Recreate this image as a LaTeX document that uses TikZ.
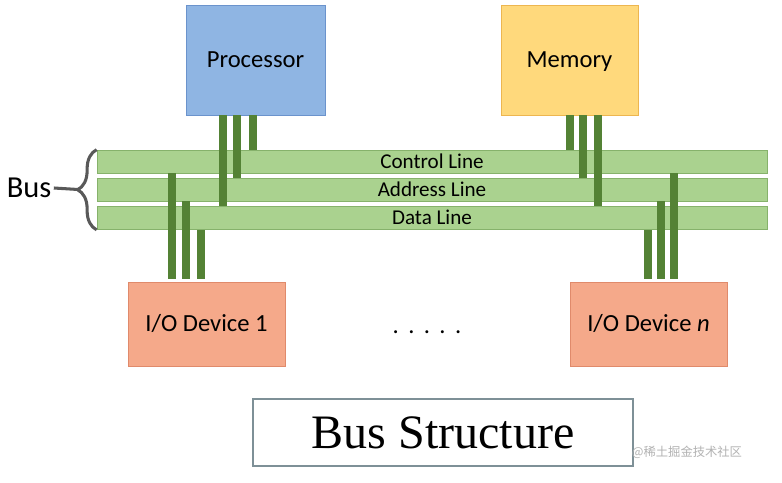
\documentclass[tikz,border=0pt]{standalone}
\usepackage{fontspec}
\setmainfont{Carlito}
\newfontfamily\titlefont{Liberation Serif}
\newfontfamily\cjkfont{Noto Sans CJK SC}
\usepackage{xcolor}
\usepackage{tikz}
\usetikzlibrary{positioning,decorations.pathreplacing}

\definecolor{cpufill}{HTML}{8FB5E3}
\definecolor{cpuedge}{HTML}{6B93CC}
\definecolor{memfill}{HTML}{FFD97C}
\definecolor{memedge}{HTML}{EDB650}
\definecolor{iofill}{HTML}{F5A98A}
\definecolor{ioedge}{HTML}{E08A6B}
\definecolor{busfill}{HTML}{AAD28F}
\definecolor{busedge}{HTML}{86B26B}
\definecolor{wiregreen}{HTML}{548235}
\definecolor{bracegray}{HTML}{595959}
\definecolor{titleedge}{HTML}{7E9097}

\begin{document}
\begin{tikzpicture}[x=0.03cm, y=-0.03cm,
    cpubox/.style={rectangle, minimum width=4.17cm, minimum height=3.3cm, draw=cpuedge, fill=cpufill, line width=0.8pt, text height=17.5pt, text depth=4pt, font=\fontsize{21}{24}\selectfont},
    membox/.style={rectangle, minimum width=4.11cm, minimum height=3.3cm, draw=memedge, fill=memfill, line width=0.8pt, text height=17.5pt, text depth=4pt, font=\fontsize{21}{24}\selectfont},
    iobox/.style={rectangle, minimum width=4.71cm, minimum height=2.52cm, draw=ioedge, fill=iofill, line width=0.8pt, text height=17.5pt, text depth=4pt, font=\fontsize{21}{24}\selectfont},
    busline/.style={rectangle, minimum width=20.1cm, minimum height=0.69cm, inner sep=0pt, draw=busedge, fill=busfill, line width=0.6pt, text height=15pt, text depth=3.4pt, font=\fontsize{18}{20}\selectfont},
    wire/.style={draw=wiregreen, line width=0.24cm},
    busbrace/.style={draw=bracegray, line width=2.6pt, decorate, decoration={brace, amplitude=0.57cm}},
    stem/.style={draw=bracegray, line width=2.6pt},
    titlebox/.style={rectangle, minimum width=11.4cm, minimum height=2.01cm, draw=titleedge, line width=1pt, font=\titlefont\fontsize{41}{46}\selectfont},
    watermark/.style={text=gray!60, font=\cjkfont\fontsize{10.5}{12}\selectfont}
]
    \useasboundingbox[fill=white] (0,0) rectangle (782,483);

    % Units on top
    \node[cpubox] (cpu) at (255.5, 60) {Processor};
    \node[membox] (mem) at (569.5, 60) {Memory};

    % The three bus lines
    \node[busline] (ctrl) at (432, 161.5) {Control Line};
    \node[busline] (addr) at (432, 189.5) {Address Line};
    \node[busline] (data) at (432, 218) {Data Line};

    % Devices below
    \node[iobox] (io1) at (206.5, 324) {I/O Device 1};
    \node[iobox] (ion) at (648.5, 324) {I/O Device \textit{n}};
    \node[font=\fontsize{21}{24}\selectfont] (dots) at (427, 332) {.\hskip8pt.\hskip8pt.\hskip8pt.\hskip8pt.};

    % Bus label and brace
    \node[font=\fontsize{26}{30}\selectfont, inner sep=2pt] (buslabel) at (29, 188) {Bus};
    \coordinate (bracetip) at (78, 189.5);
    \draw[busbrace] (data.south west) -- (ctrl.north west);
    \draw[stem] (buslabel.east) -- (bracetip);

    % Processor to bus
    \draw[wire] (cpu.south -| 223,0) -- (data.north -| 223,0);
    \draw[wire] (cpu.south -| 237,0) -- (addr.north -| 237,0);
    \draw[wire] (cpu.south -| 253,0) -- (ctrl.north -| 253,0);

    % Memory to bus
    \draw[wire] (mem.south -| 570,0) -- (ctrl.north -| 570,0);
    \draw[wire] (mem.south -| 583,0) -- (addr.north -| 583,0);
    \draw[wire] (mem.south -| 598,0) -- (data.north -| 598,0);

    % Devices to bus
    \draw[wire, shorten <=0.09cm] (io1.north -| 172,0) -- (ctrl.south -| 172,0);
    \draw[wire, shorten <=0.09cm] (io1.north -| 186,0) -- (addr.south -| 186,0);
    \draw[wire, shorten <=0.09cm] (io1.north -| 201,0) -- (data.south -| 201,0);

    \draw[wire, shorten <=0.09cm] (ion.north -| 648,0) -- (data.south -| 648,0);
    \draw[wire, shorten <=0.09cm] (ion.north -| 661,0) -- (addr.south -| 661,0);
    \draw[wire, shorten <=0.09cm] (ion.north -| 674,0) -- (ctrl.south -| 674,0);

    % Caption
    \node[titlebox] (title) at (443, 432.5) {Bus Structure};
    \node[watermark] (wm) at (687, 452) {@稀土掘金技术社区};

\end{tikzpicture}
\end{document}
